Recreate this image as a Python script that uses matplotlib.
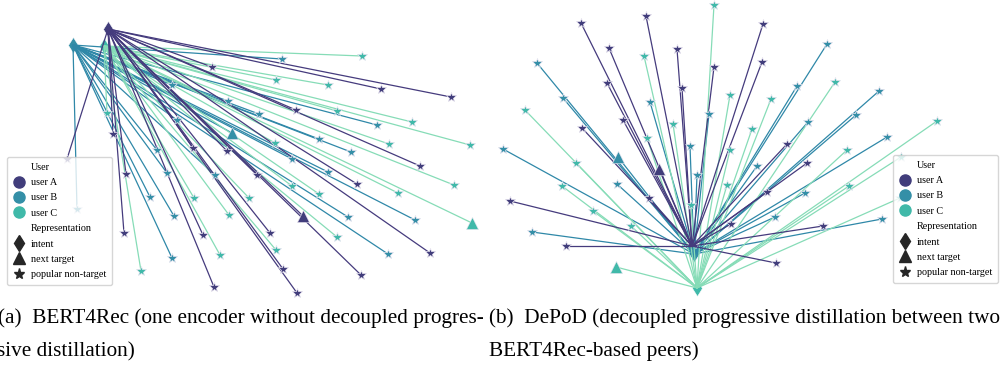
import matplotlib
matplotlib.use("Agg")
import matplotlib.pyplot as plt
from matplotlib.lines import Line2D

plt.rcParams['font.family'] = ['Liberation Serif', 'DejaVu Serif']

W, H = 1002, 366

USERS = ["user A", "user B", "user C"]
MARKER_COLORS = ["#413d7b", "#348fa7", "#40b9a9"]
LINE_COLORS = ["#453b7d", "#2f88a8", "#86dcb7"]

# (a) BERT4Rec: one encoder, positions in the 2-d projection
bert_intent = [(108, 29), (73, 45), (104, 46)]
bert_target = [(303, 216), (232, 133), (472, 223)]
bert_popular_a = [(212, 67), (381, 89), (451, 97), (296, 110), (113, 134), (420, 166),
                  (357, 184), (257, 175), (270, 233), (430, 253), (283, 269), (361, 275),
                  (297, 293), (193, 148), (227, 151), (126, 174), (124, 233), (203, 235),
                  (214, 287), (67, 159)]
bert_popular_b = [(282, 59), (228, 101), (259, 114), (377, 125), (319, 139), (351, 152),
                  (292, 159), (328, 172), (348, 217), (415, 220), (388, 254), (157, 150),
                  (167, 173), (215, 175), (150, 197), (174, 216), (172, 258), (177, 120),
                  (77, 209), (172, 85)]
bert_popular_c = [(362, 56), (276, 80), (328, 85), (337, 111), (412, 122), (389, 144),
                  (470, 145), (275, 143), (454, 185), (398, 193), (292, 186), (319, 194),
                  (249, 198), (337, 237), (276, 250), (194, 198), (229, 215), (220, 255),
                  (141, 271), (107, 113)]

# (b) DePoD: decoupled progressive distillation
depod_intent = [(692, 246), (694, 254), (697, 288)]
depod_target = [(659, 169), (618, 157), (616, 267)]
depod_popular_a = [(581, 23), (646, 16), (609, 48), (677, 49), (714, 67), (607, 83),
                   (682, 88), (623, 120), (582, 128), (763, 24), (762, 62), (787, 144),
                   (649, 198), (510, 201), (731, 224), (566, 246), (807, 163), (767, 192),
                   (823, 226), (776, 263)]
depod_popular_b = [(537, 63), (563, 98), (650, 102), (709, 114), (503, 149), (690, 146),
                   (827, 44), (797, 86), (879, 91), (856, 115), (808, 122), (887, 137),
                   (617, 184), (697, 175), (532, 232), (757, 166), (805, 193), (775, 217),
                   (882, 219)]
depod_popular_c = [(714, 5), (644, 56), (730, 95), (525, 110), (673, 124), (647, 138),
                   (835, 82), (771, 99), (937, 121), (752, 129), (847, 150), (576, 163),
                   (730, 150), (727, 185), (562, 186), (691, 205), (593, 211), (631, 226),
                   (849, 186), (901, 157), (900, 198)]


def draw_panel(ax, intents, targets, popular):
    for i in range(3):
        ax.plot(*intents[i], ls='', marker='d', ms=8, color=MARKER_COLORS[i],
                mec='white', mew=0.4, zorder=1, clip_on=False)
    for i in [1, 2, 0]:
        ix, iy = intents[i]
        for px, py in popular[i] + [targets[i]]:
            ax.plot([ix, px], [iy, py], color=LINE_COLORS[i], lw=0.9, zorder=2)
    for i in range(3):
        xs, ys = zip(*popular[i])
        ax.plot(xs, ys, ls='', marker='*', ms=7, color=MARKER_COLORS[i],
                mec='#e8e4f0', mew=0.5, zorder=3, clip_on=False)
        ax.plot(*targets[i], ls='', marker='^', ms=9, color=MARKER_COLORS[i],
                mec='#e8e4f0', mew=0.4, zorder=3)


def add_legend(fig, x, y):
    handles = [Line2D([], [], ls='', marker='')]
    labels = ['User']
    for c, u in zip(MARKER_COLORS, USERS):
        handles.append(Line2D([], [], ls='', marker='o', ms=8, color=c))
        labels.append(u)
    handles.append(Line2D([], [], ls='', marker=''))
    labels.append('Representation')
    for m, lab in [('d', 'intent'), ('^', 'next target'), ('*', 'popular non-target')]:
        handles.append(Line2D([], [], ls='', marker=m, ms=8, color='#262626'))
        labels.append(lab)
    leg = fig.legend(handles, labels, loc='upper left', bbox_to_anchor=(x / W, 1 - y / H),
                     fontsize=7.3, frameon=True, framealpha=0.8, edgecolor='#cccccc',
                     handlelength=1.3, handletextpad=0.5, labelspacing=0.62,
                     borderpad=0.55, borderaxespad=0)
    leg.set_zorder(10)
    return leg


fig = plt.figure(figsize=(W / 100, H / 100), dpi=100)

ax1 = fig.add_axes([0, 66 / H, 490 / W, 300 / H])
ax1.set_xlim(0, 490)
ax1.set_ylim(300, 0)
ax1.axis('off')
draw_panel(ax1, bert_intent, bert_target, [bert_popular_a, bert_popular_b, bert_popular_c])

ax2 = fig.add_axes([490 / W, 66 / H, 512 / W, 300 / H])
ax2.set_xlim(490, 1002)
ax2.set_ylim(300, 0)
ax2.axis('off')
draw_panel(ax2, depod_intent, depod_target, [depod_popular_a, depod_popular_b, depod_popular_c])

add_legend(fig, 7, 157)
add_legend(fig, 893, 155)

cap = dict(fontsize=15.3, va='baseline', ha='left')
fig.text(-2 / W, 1 - 323 / H, "(a)  BERT4Rec (one encoder without decoupled progres-", **cap)
fig.text(-3 / W, 1 - 356 / H, "sive distillation)", **cap)
fig.text(489 / W, 1 - 323 / H, "(b)  DePoD (decoupled progressive distillation between two", **cap)
fig.text(489 / W, 1 - 356 / H, "BERT4Rec-based peers)", **cap)

fig.savefig("out.png", dpi=100)
